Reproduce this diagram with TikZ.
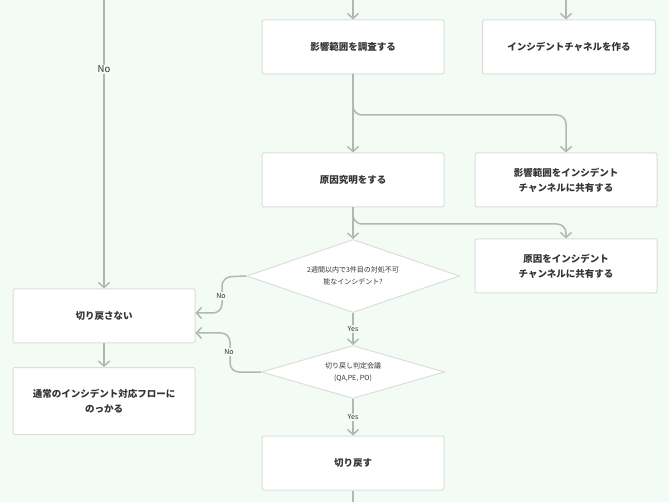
\documentclass[tikz,border=0pt]{standalone}
\usepackage{fontspec}
\setmainfont{Noto Sans CJK JP}
\usetikzlibrary{shapes.geometric,arrows.meta}
\definecolor{bgcol}{HTML}{F2FBF4}
\definecolor{linecol}{HTML}{B2B7B2}
\definecolor{boxline}{HTML}{DCDEDC}
\definecolor{txtcol}{HTML}{333333}

\tikzset{
    stepbox/.style={draw=boxline, line width=1pt, fill=white, rounded corners=2pt,
        minimum width=182pt, minimum height=54pt, align=center, text=txtcol,
        font=\fontsize{9.5}{15}\selectfont\bfseries},
    check/.style={diamond, draw=boxline, line width=1pt, fill=white, aspect=2.9,
        inner sep=0pt, align=center, text=txtcol, font=\fontsize{7}{12}\selectfont},
    flow/.style={draw=linecol, line width=1.5pt, rounded corners=9pt,
        -{Straight Barb[length=5pt,width=11pt]}},
    tag/.style={fill=bgcol, text=txtcol, font=\fontsize{7}{8}\selectfont, inner sep=1pt}
}

\begin{document}
\begin{tikzpicture}[x=1pt, y=-1pt]
    % Background
    \fill[bgcol] (0,0) rectangle (669,502);
    \useasboundingbox (0,0) rectangle (669,502);

    % Loose ends
    \coordinate (in1) at (353,0);
    \coordinate (in2) at (566,0);
    \coordinate (in3) at (104,0);
    \coordinate (out) at (353,502);

    % Steps
    \node[stepbox] (survey) at (353,47) {影響範囲を調査する};
    \node[stepbox, minimum width=173pt] (channel) at (569,47) {インシデントチャネルを作る};
    \node[stepbox] (cause) at (353,180) {原因究明をする};
    \node[stepbox] (share1) at (566,180) {影響範囲をインシデント\\チャンネルに共有する};
    \node[stepbox] (share2) at (566,266) {原因をインシデント\\チャンネルに共有する};
    \node[check, minimum width=213pt, minimum height=73pt] (twoweek) at (353,276) {2週間以内で3件目の対処不可\\能なインシデント?};
    \node[check, minimum width=183pt, minimum height=53pt] (meeting) at (353,372) {切り戻し判定会議\\(QA,PE, PO)};
    \node[stepbox] (keep) at (104,316) {切り戻さない};
    \node[stepbox, minimum height=67pt] (normal) at (104,401) {通常のインシデント対応フローに\\のっかる};
    \node[stepbox] (revert) at (353,463) {切り戻す};

    % Connectors
    \draw[flow] (in1) -- (survey);
    \draw[flow] (in2) -- (in2 |- channel.north);
    \draw[flow] (in3) -- (keep) node[pos=0.24, tag, font=\fontsize{9.5}{10}\selectfont] {No};
    \draw[flow] (survey) -- (cause);
    \draw[flow] (353,100) |- (545,115) -| (share1);
    \draw[flow] (cause) -- (twoweek);
    \draw[flow] (353,208) |- (545,224) -| (share2);
    \draw[flow] (twoweek.west) -- (222,277) -- (222,313) -- (keep.east |- 0,313);
    \node[tag] at (221,296) {No};
    \draw[flow] (twoweek) -- (meeting) node[midway, tag] {Yes};
    \draw[flow] (meeting.west) -- (230,372) -- (230,333) -- (keep.east |- 0,333);
    \node[tag] at (229,352) {No};
    \draw[flow] (meeting) -- (revert) node[midway, tag] {Yes};
    \draw[flow] (keep) -- (normal);
    \draw[draw=linecol, line width=1.5pt] (revert) -- (out);
\end{tikzpicture}
\end{document}
